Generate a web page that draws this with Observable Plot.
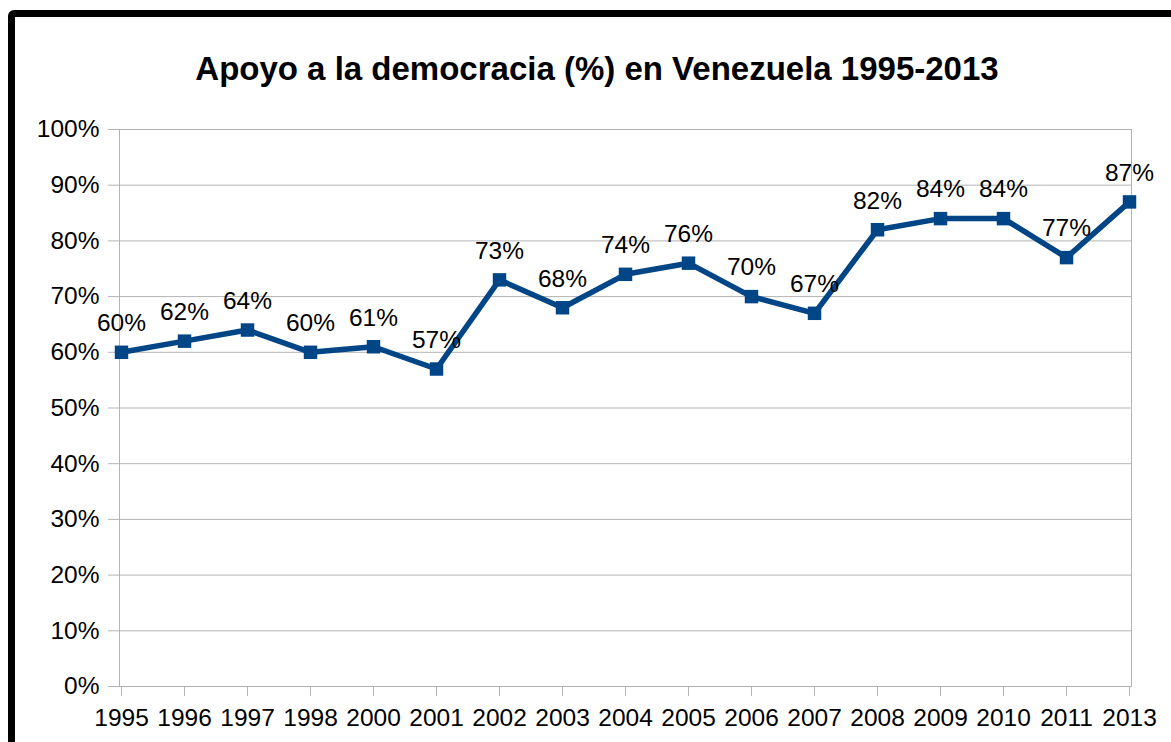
<!DOCTYPE html>
<html>
<head>
<meta charset="utf-8">
<script src="https://cdn.jsdelivr.net/npm/d3@7"></script>
<script src="https://cdn.jsdelivr.net/npm/@observablehq/plot@0.6"></script>
<style>
  html, body { margin: 0; padding: 0; background: #fff; overflow: hidden; }
  body { width: 1171px; height: 742px; position: relative; font-family: "Liberation Sans", Arial, sans-serif; }
  #frame { position: absolute; left: 8px; top: 10px; width: 1400px; height: 1000px; border: 7px solid #000; border-radius: 6px; box-sizing: border-box; }
  #title { position: absolute; left: 0; top: 49px; width: 1194px; text-align: center; font-weight: bold; font-size: 33px; color: #000; line-height: 40px; }
  #chart { position: absolute; left: 0; top: 100px; }
</style>
</head>
<body>
<div id="frame"></div>
<div id="title">Apoyo a la democracia (%) en Venezuela 1995-2013</div>
<div id="chart"></div>
<script>
const years = ["1995","1996","1997","1998","2000","2001","2002","2003","2004","2005","2006","2007","2008","2009","2010","2011","2013"];
const support = [60, 62, 64, 60, 61, 57, 73, 68, 74, 76, 70, 67, 82, 84, 84, 77, 87];
const yTicks = [0, 10, 20, 30, 40, 50, 60, 70, 80, 90, 100];

const data = years.map((y, i) => ({year: y, value: support[i]}));

const plot = Plot.plot({
  width: 1171,
  height: 642,
  marginTop: 29,
  marginBottom: 56,
  marginLeft: 119,
  marginRight: 40,
  style: {fontFamily: "'Liberation Sans', Arial, sans-serif", fontSize: "24.5px", color: "#000", background: "transparent", overflow: "visible"},
  x: {type: "point", domain: years, padding: 0, label: null},
  y: {domain: [0, 100], label: null},
  marks: [
    Plot.gridY(yTicks, {stroke: "#b3b3b3", strokeOpacity: 1, strokeWidth: 1}),
    Plot.frame({stroke: "#b3b3b3", strokeWidth: 1}),
    Plot.axisY(yTicks, {tickSize: 11, tickPadding: 9, stroke: "#b3b3b3", tickFormat: d => d + "%", fontSize: 24.5, fill: "#000"}),
    Plot.axisX(years, {tickSize: 10, tickPadding: 12, stroke: "#b3b3b3", fontSize: 24.5, fill: "#000"}),
    Plot.line(data, {x: "year", y: "value", stroke: "#004586", strokeWidth: 5.5}),
    Plot.dot(data, {x: "year", y: "value", symbol: "square", r: 7.6, fill: "#004586", stroke: "none"}),
    Plot.text(data, {x: "year", y: "value", text: d => d.value + "%", dy: -29, fontSize: 24.5, fill: "#000", textAnchor: "middle", lineAnchor: "middle"})
  ]
});
document.getElementById("chart").appendChild(plot);
</script>
</body>
</html>
